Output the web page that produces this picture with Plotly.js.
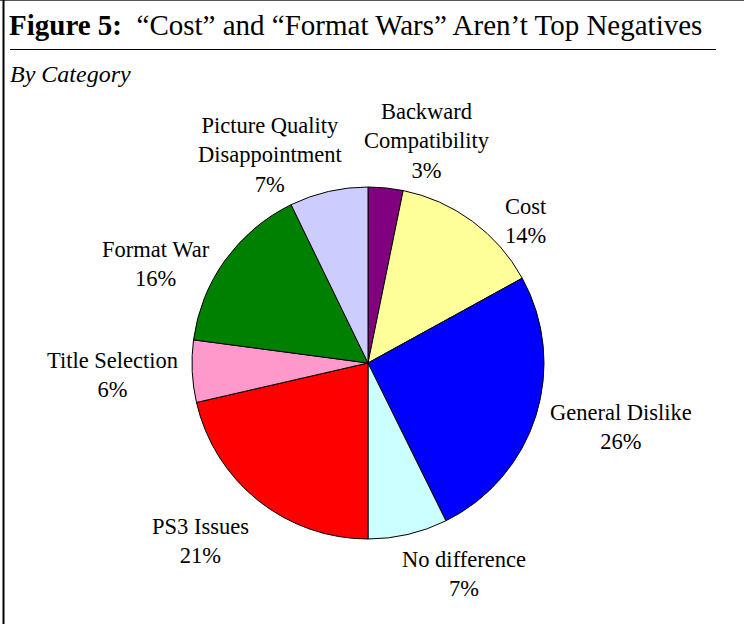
<!DOCTYPE html>
<html>
<head>
<meta charset="utf-8">
<script src="https://cdn.plot.ly/plotly-3.0.1.min.js"></script>
<style>
  html, body { margin: 0; padding: 0; background: #fff; }
  #chart { width: 744px; height: 624px; }
</style>
</head>
<body>
<div id="chart"></div>
<script>
// ---- data ----
const categories = ["Backward Compatibility", "Cost", "General Dislike", "No difference", "PS3 Issues", "Title Selection", "Format War", "Picture Quality Disappointment"];
const displayLabels = ["Backward<br>Compatibility", "Cost", "General Dislike", "No difference", "PS3 Issues", "Title Selection", "Format War", "Picture Quality<br>Disappointment"];
const shares = [3.2, 13.8, 25.7, 7.3, 21.4, 5.7, 15.7, 7.2];
const sliceColors = ["#800080", "#FFFF99", "#0000FF", "#CCFFFF", "#FF0000", "#FF99CC", "#008000", "#CCCCFF"];

// ---- layout constants (pixels) ----
const W = 744, H = 624;
const cx = 368, cy = 363, R = 176;
const labelGap = 50;
// per-label nudges (px) from the mid-angle anchor, mimicking the original label placement
const labelNudge = [[36, 3], [24, 40], [37, -4], [45, -9], [-27, 1], [-30, 1], [-29, 33], [-47, 12]];
const serif = "Liberation Serif, Times New Roman, serif";

const total = shares.reduce((a, b) => a + b, 0);
let cum = 0;
const labelAnnotations = shares.map((v, i) => {
  const mid = (cum + v / 2) / total * 2 * Math.PI;
  cum += v;
  const px = cx + (R + labelGap) * Math.sin(mid) + labelNudge[i][0];
  const py = cy - (R + labelGap) * Math.cos(mid) + labelNudge[i][1];
  return {
    text: displayLabels[i] + "<br>" + Math.round(v / total * 100) + "%",
    xref: "paper", yref: "paper", x: px / W, y: 1 - py / H,
    xanchor: "center", yanchor: "middle", align: "center", showarrow: false,
    font: { family: serif, size: 22.5, color: "#000" }
  };
});

const trace = {
  type: "pie",
  labels: categories,
  values: shares,
  sort: false,
  direction: "clockwise",
  rotation: 0,
  marker: { colors: sliceColors, line: { color: "#000", width: 1 } },
  textinfo: "none",
  hoverinfo: "label+percent",
  showlegend: false,
  domain: { x: [(cx - R) / W, (cx + R) / W], y: [(H - cy - R) / H, (H - cy + R) / H] }
};

const layout = {
  width: W, height: H,
  margin: { l: 0, r: 0, t: 0, b: 0 },
  paper_bgcolor: "#fff",
  showlegend: false,
  title: {
    text: "<b>Figure 5:</b>  \u201CCost\u201D and \u201CFormat Wars\u201D Aren\u2019t Top Negatives",
    x: 9 / W, xanchor: "left", xref: "paper",
    y: 1 - 25 / H, yanchor: "middle", yref: "container",
    font: { family: serif, size: 29, color: "#000" }
  },
  annotations: [{
    text: "<i>By Category</i>", xref: "paper", yref: "paper",
    x: 8 / W, y: 1 - 74 / H, xanchor: "left", yanchor: "middle", showarrow: false,
    font: { family: serif, size: 24, color: "#000" }
  }].concat(labelAnnotations),
  shapes: [
    { type: "line", xref: "paper", yref: "paper", x0: 0, x1: 1, y0: 1 - 0.5 / H, y1: 1 - 0.5 / H, line: { color: "#555", width: 1 } },
    { type: "line", xref: "paper", yref: "paper", x0: 3.5 / W, x1: 3.5 / W, y0: 0, y1: 1, line: { color: "#000", width: 2 } },
    { type: "line", xref: "paper", yref: "paper", x0: 10 / W, x1: 716 / W, y0: 1 - 49.5 / H, y1: 1 - 49.5 / H, line: { color: "#000", width: 1 } }
  ]
};

Plotly.newPlot("chart", [trace], layout, { displayModeBar: false, staticPlot: true });
</script>
</body>
</html>
